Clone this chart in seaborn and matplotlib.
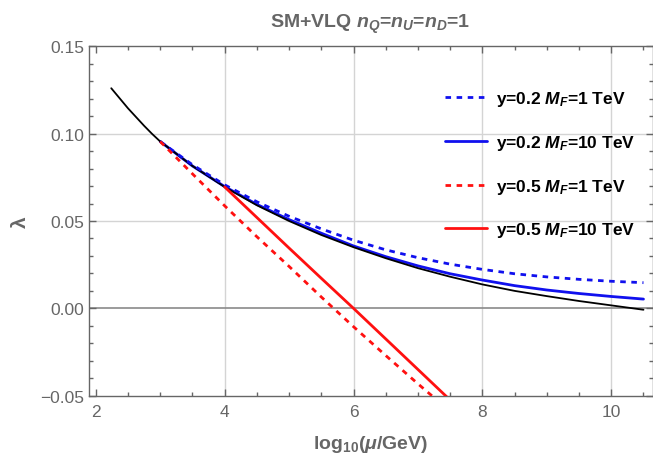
import numpy as np
import pandas as pd
import matplotlib
matplotlib.use("Agg")
import matplotlib.pyplot as plt
import seaborn as sns
from matplotlib.ticker import MultipleLocator

# ---- data ----
x_sm = [2.24, 2.5, 2.75, 2.87, 3.0, 3.5, 4.0, 4.5, 5.0, 5.5, 6.0, 6.5, 7.0, 7.5, 8.0, 8.5, 9.0, 9.5, 10.0, 10.5]
y_sm = [0.126, 0.1145, 0.1045, 0.100, 0.0955, 0.0815, 0.0695, 0.0590, 0.0500, 0.0420, 0.0350, 0.0287, 0.0230, 0.0181, 0.0137, 0.0100, 0.0070, 0.0042, 0.0017, -0.0008]

x_blue = [3.0, 3.5, 4.0, 4.5, 5.0, 5.5, 6.0, 6.5, 7.0, 7.5, 8.0, 8.5, 9.0, 9.5, 10.0, 10.5]
y_b02_1 = [0.0955, 0.0822, 0.0707, 0.0610, 0.0527, 0.0455, 0.0390, 0.0335, 0.0290, 0.0253, 0.0223, 0.0198, 0.0180, 0.0166, 0.0155, 0.0147]
y_b02_10 = [0.0955, 0.0815, 0.0697, 0.0595, 0.0508, 0.0430, 0.0357, 0.0296, 0.0243, 0.0198, 0.0162, 0.0130, 0.0105, 0.0085, 0.0068, 0.0053]

x_r05_1 = [3.0, 3.5, 4.0, 4.5, 5.0, 5.5, 6.0, 6.5, 7.0, 7.5]
y_r05_1 = [0.0955, 0.0770, 0.0587, 0.0410, 0.0240, 0.0065, -0.0105, -0.0270, -0.0432, -0.0590]
x_r05_10 = [4.0, 4.5, 5.0, 5.5, 6.0, 6.5, 7.0, 7.5]
y_r05_10 = [0.0695, 0.0520, 0.0345, 0.0172, 0.0, -0.0175, -0.0350, -0.0525]

labels = [r"y=0.2 $\mathit{M_F}$=1 TeV", r"y=0.2 $\mathit{M_F}$=10 TeV",
          r"y=0.5 $\mathit{M_F}$=1 TeV", r"y=0.5 $\mathit{M_F}$=10 TeV"]
title = r"SM+VLQ $\mathit{n_Q}$=$\mathit{n_U}$=$\mathit{n_D}$=1"
xlabel = r"log$_{\mathbf{10}}$($\mathit{\mu}$/GeV)"
ylabel = "λ"

# ---- style ----
sns.set_style("ticks")
plt.rcParams["font.family"] = ["Liberation Sans", "DejaVu Sans"]
plt.rcParams["mathtext.fontset"] = "custom"
plt.rcParams["mathtext.rm"] = "Liberation Sans:bold"
plt.rcParams["mathtext.bf"] = "Liberation Sans:bold"
plt.rcParams["mathtext.it"] = "Liberation Sans:italic:bold"
plt.rcParams["mathtext.default"] = "bf"

GRAY = "#666666"
fig = plt.figure(figsize=(6.53, 4.60), dpi=100)
ax = fig.add_axes([88.7 / 653, 1 - 396.7 / 460, (652.5 - 88.7) / 653, (396.7 - 47.3) / 460])

# grid & zero line
for gx in [4, 6, 8, 10]:
    ax.axvline(gx, color="#d4d4d4", lw=1.0, zorder=0)
for gy in [0.05, 0.10]:
    ax.axhline(gy, color="#d4d4d4", lw=1.0, zorder=0)
ax.axhline(0.0, color="#8a8a8a", lw=1.2, zorder=0.5)

sns.lineplot(x=x_sm, y=y_sm, color="black", lw=1.3, ax=ax, legend=False, zorder=3)
sns.lineplot(x=x_blue, y=y_b02_1, color="#1010ee", lw=2.0, ax=ax, label=labels[0], zorder=4,
             linestyle=(0, (2.0, 2.0)))
sns.lineplot(x=x_blue, y=y_b02_10, color="#1010ee", lw=2.0, ax=ax, label=labels[1], zorder=2)
sns.lineplot(x=x_r05_1, y=y_r05_1, color="#ff1010", lw=2.0, ax=ax, label=labels[2], zorder=4,
             linestyle=(0, (2.0, 2.0)))
sns.lineplot(x=x_r05_10, y=y_r05_10, color="#ff1010", lw=2.0, ax=ax, label=labels[3], zorder=4)

ax.set_xlim(1.89, 10.64)
ax.set_ylim(-0.05, 0.15)
ax.xaxis.set_major_locator(MultipleLocator(2))
ax.xaxis.set_minor_locator(MultipleLocator(0.5))
ax.yaxis.set_major_locator(MultipleLocator(0.05))
ax.yaxis.set_minor_locator(MultipleLocator(0.01))
ax.yaxis.set_major_formatter(matplotlib.ticker.FuncFormatter(
    lambda v, p: ("\u2212" if v < -1e-9 else "") + f"{abs(v):.2f}"))

ax.tick_params(which="both", direction="in", top=True, right=True, colors=GRAY,
               labelcolor=GRAY, labelsize=12.5, width=1.0)
ax.tick_params(which="major", length=5)
ax.tick_params(which="minor", length=3)
ax.tick_params(axis="x", pad=6)
ax.tick_params(axis="y", pad=3)
for s in ax.spines.values():
    s.set_color(GRAY)
    s.set_linewidth(1.0)

ax.set_title(title, fontsize=14, fontweight="bold", color=GRAY, pad=14)
ax.set_xlabel(xlabel, fontsize=14, fontweight="bold", color=GRAY, labelpad=10)
ax.set_ylabel(ylabel, fontsize=15, fontweight="bold", color=GRAY, labelpad=8)

leg = ax.legend(loc="upper left", bbox_to_anchor=(0.632, 0.877), frameon=False,
                borderpad=0, borderaxespad=0, handlelength=2.4, handletextpad=0.55,
                labelspacing=1.42, prop={"weight": "bold", "size": 12.5})
for t in leg.get_texts():
    t.set_color("black")

fig.savefig("out.png", dpi=100)
